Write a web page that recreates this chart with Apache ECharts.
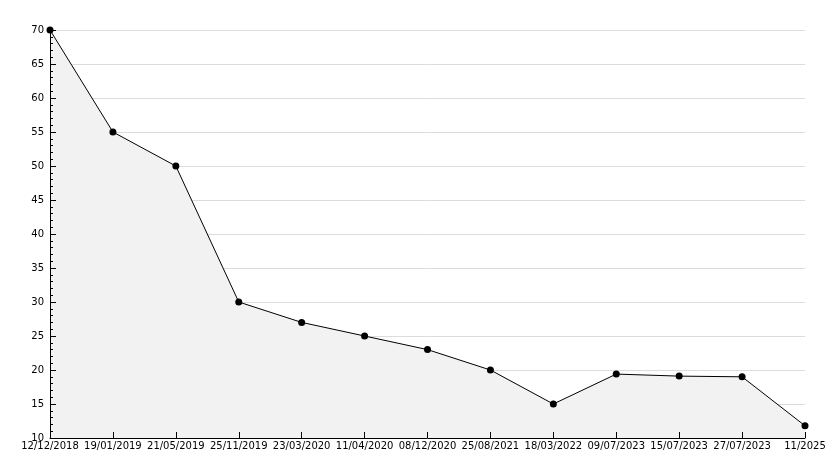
<!DOCTYPE html>
<html><head><meta charset="utf-8">
<script src="https://cdn.jsdelivr.net/npm/echarts@6/dist/echarts.min.js"></script>
<style>html,body{margin:0;padding:0;background:#fff}#c{width:834px;height:468px}</style>
</head><body><div id="c"></div>
<script>
const categories = ['12/12/2018','19/01/2019','21/05/2019','25/11/2019','23/03/2020','11/04/2020','08/12/2020','25/08/2021','18/03/2022','09/07/2023','15/07/2023','27/07/2023','11/2025'];
const values = [70, 55, 50, 30, 27, 25, 23, 20, 15, 19.4, 19.1, 19, 11.8];
const yTicks = [10, 15, 20, 25, 30, 35, 40, 45, 50, 55, 60, 65, 70];

const chart = echarts.init(document.getElementById('c'), null, {renderer: 'canvas'});
const font = {fontFamily: 'DejaVu Sans', fontSize: 10, color: '#000'};
const yMin = yTicks[0], yMax = yTicks[yTicks.length - 1];
chart.setOption({
  animation: false,
  grid: {left: 50, right: 29, top: 30, bottom: 30},
  xAxis: [{
    type: 'category', data: categories, boundaryGap: false, z: 0,
    axisLine: {show: false},
    axisTick: {show: false},
    axisLabel: Object.assign({margin: 3, interval: 0}, font),
    splitLine: {show: false}
  }, {
    type: 'category', data: categories, boundaryGap: false, position: 'bottom', z: 10,
    axisLine: {show: true, onZero: false, lineStyle: {color: '#000', width: 1}},
    axisTick: {show: true, interval: 0, inside: true, length: 6, lineStyle: {color: '#000'}},
    axisLabel: {show: false},
    splitLine: {show: false}
  }],
  yAxis: [{
    type: 'value', min: yMin, max: yMax, interval: 5, z: 0,
    axisLine: {show: false},
    axisTick: {show: false},
    axisLabel: Object.assign({margin: 6}, font),
    splitLine: {show: true, lineStyle: {color: '#dcdcdc', width: 1}}
  }, {
    type: 'value', min: yMin, max: yMax, interval: 5, position: 'left', z: 10,
    axisLine: {show: true, onZero: false, lineStyle: {color: '#000', width: 1}},
    axisTick: {show: true, inside: true, length: 6, lineStyle: {color: '#000'}},
    minorTick: {show: true, splitNumber: 5, length: 3, lineStyle: {color: '#000'}},
    axisLabel: {show: false},
    splitLine: {show: false}
  }],
  series: [{
    type: 'line', data: values, xAxisIndex: 0, yAxisIndex: 0, z: 2,
    lineStyle: {color: '#000', width: 1},
    itemStyle: {color: '#000'},
    symbol: 'circle', symbolSize: 7,
    areaStyle: {color: '#f2f2f2', opacity: 1}
  }]
});
</script></body></html>
